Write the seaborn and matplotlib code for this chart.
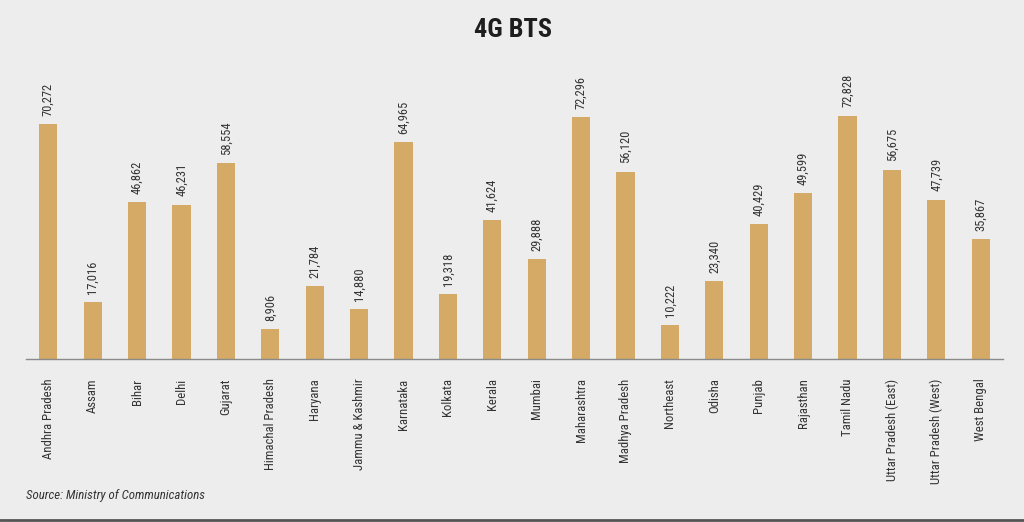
import numpy as np
import pandas as pd
import matplotlib.pyplot as plt
import seaborn as sns
from matplotlib import font_manager
from matplotlib.lines import Line2D

circles = [
    "Andhra Pradesh", "Assam", "Bihar", "Delhi", "Gujarat", "Himachal Pradesh",
    "Haryana", "Jammu & Kashmir", "Karnataka", "Kolkata", "Kerala", "Mumbai",
    "Maharashtra", "Madhya Pradesh", "Northeast", "Odisha", "Punjab",
    "Rajasthan", "Tamil Nadu", "Uttar Pradesh (East)", "Uttar Pradesh (West)",
    "West Bengal",
]
bts_4g = [
    70272, 17016, 46862, 46231, 58554, 8906, 21784, 14880, 64965, 19318,
    41624, 29888, 72296, 56120, 10222, 23340, 40429, 49599, 72828, 56675,
    47739, 35867,
]


def pick_font():
    # the original uses a narrow grotesque; take one if the box has it
    installed = {f.name for f in font_manager.fontManager.ttflist}
    for name in ["Roboto Condensed", "Liberation Sans Narrow", "Arial Narrow"]:
        if name in installed:
            return name, 1.0
    return "Liberation Sans", 0.82


def plot_4g_bts():
    sns.set_theme(style="white")
    family, k = pick_font()
    plt.rcParams["font.family"] = [family, "DejaVu Sans"]
    bg = "#ededed"
    bar_color = "#d4aa66"
    text_color = "#333333"

    df = pd.DataFrame({"circle": circles, "bts": bts_4g})

    fig = plt.figure(figsize=(10.24, 5.22), dpi=100, facecolor=bg)
    ax = fig.add_axes([0.0254, 0.3123, 0.9541, 0.5727])
    ax.set_facecolor(bg)

    sns.barplot(data=df, x="circle", y="bts", color=bar_color, width=0.41,
                saturation=1, linewidth=0, ax=ax)

    # value labels above bars
    for i, v in enumerate(df["bts"]):
        ax.annotate(f"{v:,}", (i, v), xytext=(0, 6), textcoords="offset points",
                    rotation=90, ha="center", va="bottom", fontsize=9 * k,
                    color=text_color)

    n = len(circles)
    ax.set_xlim(-0.5, n - 0.5)
    ax.set_ylim(0, 89500)
    ax.set(xlabel="", ylabel="")
    ax.set_yticks([])

    for side in ["top", "right", "left"]:
        ax.spines[side].set_visible(False)
    ax.spines["bottom"].set_color("#8a8a8a")
    ax.spines["bottom"].set_linewidth(1)

    ax.set_xticks(range(n))
    ax.set_xticklabels(circles, rotation=90, fontsize=9.2 * k, color=text_color)
    ax.tick_params(axis="x", which="major", length=0, pad=14)
    ax.set_xticks(np.arange(n - 1) + 0.5, minor=True)
    ax.tick_params(axis="x", which="minor", length=4, width=1,
                   color="#8a8a8a", direction="out")

    fig.text(0.501, 0.942, "4G BTS", ha="center", va="center", fontsize=19,
             fontweight="bold", color="#1e1e1e")
    fig.text(0.0254, 0.050, "Source: Ministry of Communications", ha="left",
             va="center", fontsize=9.3 * k, fontstyle="italic", color=text_color)

    fig.add_artist(Line2D([0, 1], [0.004, 0.004], transform=fig.transFigure,
                          color="#555555", linewidth=2))

    fig.savefig("out.png", dpi=100, facecolor=bg)


if __name__ == "__main__":
    plot_4g_bts()
